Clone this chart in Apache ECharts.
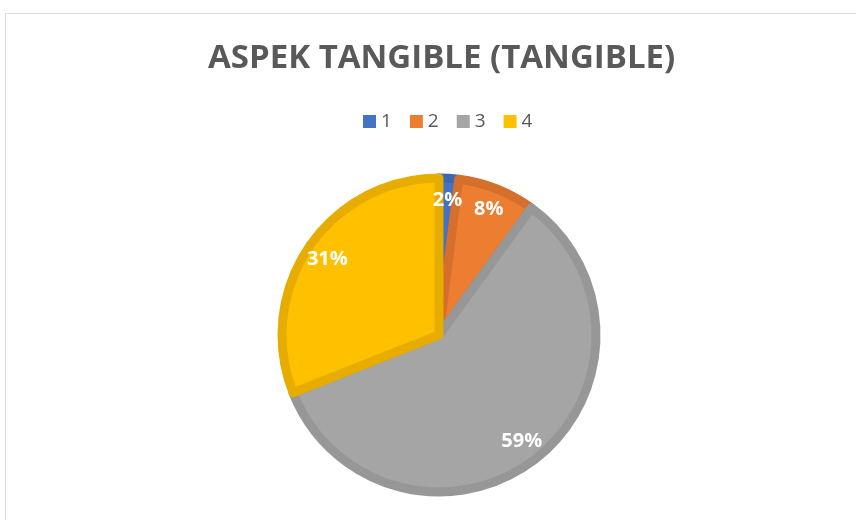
<!DOCTYPE html>
<html>
<head>
<meta charset="utf-8">
<script src="https://cdn.jsdelivr.net/npm/echarts@6/dist/echarts.min.js"></script>
<style>
  html, body { margin: 0; padding: 0; background: #fff; }
  #chart { width: 856px; height: 520px; }
</style>
</head>
<body>
<div id="chart"></div>
<script>
var titleText = "ASPEK TANGIBLE (TANGIBLE)";
var categories = ["1", "2", "3", "4"];
var values = [2, 8, 59, 31];
var fillColors = ["#4472C4", "#ED7D31", "#A5A5A5", "#FFC000"];
var edgeColors = ["#3E67B1", "#D56F2B", "#979797", "#E6AD00"];

function init_echart_pie(container) {
  var chartDom = document.getElementById(container);
  var myChart = echarts.init(chartDom);

  var pieData = categories.map(function (name, i) {
    return {
      name: name,
      value: values[i],
      itemStyle: { color: fillColors[i], borderColor: edgeColors[i] },
    };
  });
  // 只用于放置标签的透明环
  var labelData = categories.map(function (name, i) {
    return { name: name, value: values[i] };
  });

  var option = {
    animation: false,
    color: fillColors,
    title: {
      text: titleText,
      left: 203,
      top: 37,
      textStyle: {
        color: "#595959",
        fontSize: 33,
        fontWeight: "bold",
        fontFamily: "Open Sans",
      },
    },
    legend: {
      data: categories,
      top: 107,
      left: 358,
      itemWidth: 13,
      itemHeight: 13,
      itemGap: 18,
      icon: "rect",
      itemStyle: { borderWidth: 0 },
      textStyle: {
        color: "#595959",
        fontSize: 19,
        fontFamily: "Open Sans",
      },
    },
    graphic: [
      {
        type: "rect",
        silent: true,
        shape: { x: 5.5, y: 13.5, width: 900, height: 600 },
        style: { fill: "none", stroke: "#d9d9d9", lineWidth: 1 },
      },
    ],
    series: [
      {
        type: "pie",
        center: [439, 335],
        radius: [0, 157],
        startAngle: 90,
        label: { show: false },
        labelLine: { show: false },
        itemStyle: { borderWidth: 9 },
        emphasis: { disabled: true },
        data: pieData,
      },
      {
        type: "pie",
        center: [439, 335],
        radius: [102, 162],
        startAngle: 90,
        silent: true,
        itemStyle: { color: "rgba(0,0,0,0)", borderWidth: 0 },
        label: {
          position: "inside",
          formatter: "{d}%",
          color: "#ffffff",
          fontSize: 20,
          fontWeight: "bold",
          fontFamily: "Open Sans",
        },
        labelLine: { show: false },
        emphasis: { disabled: true },
        legendHoverLink: false,
        data: labelData,
      },
    ],
  };

  window.addEventListener("resize", function () {
    myChart.resize();
  });
  myChart.setOption(option);
}

init_echart_pie("chart");
</script>
</body>
</html>
